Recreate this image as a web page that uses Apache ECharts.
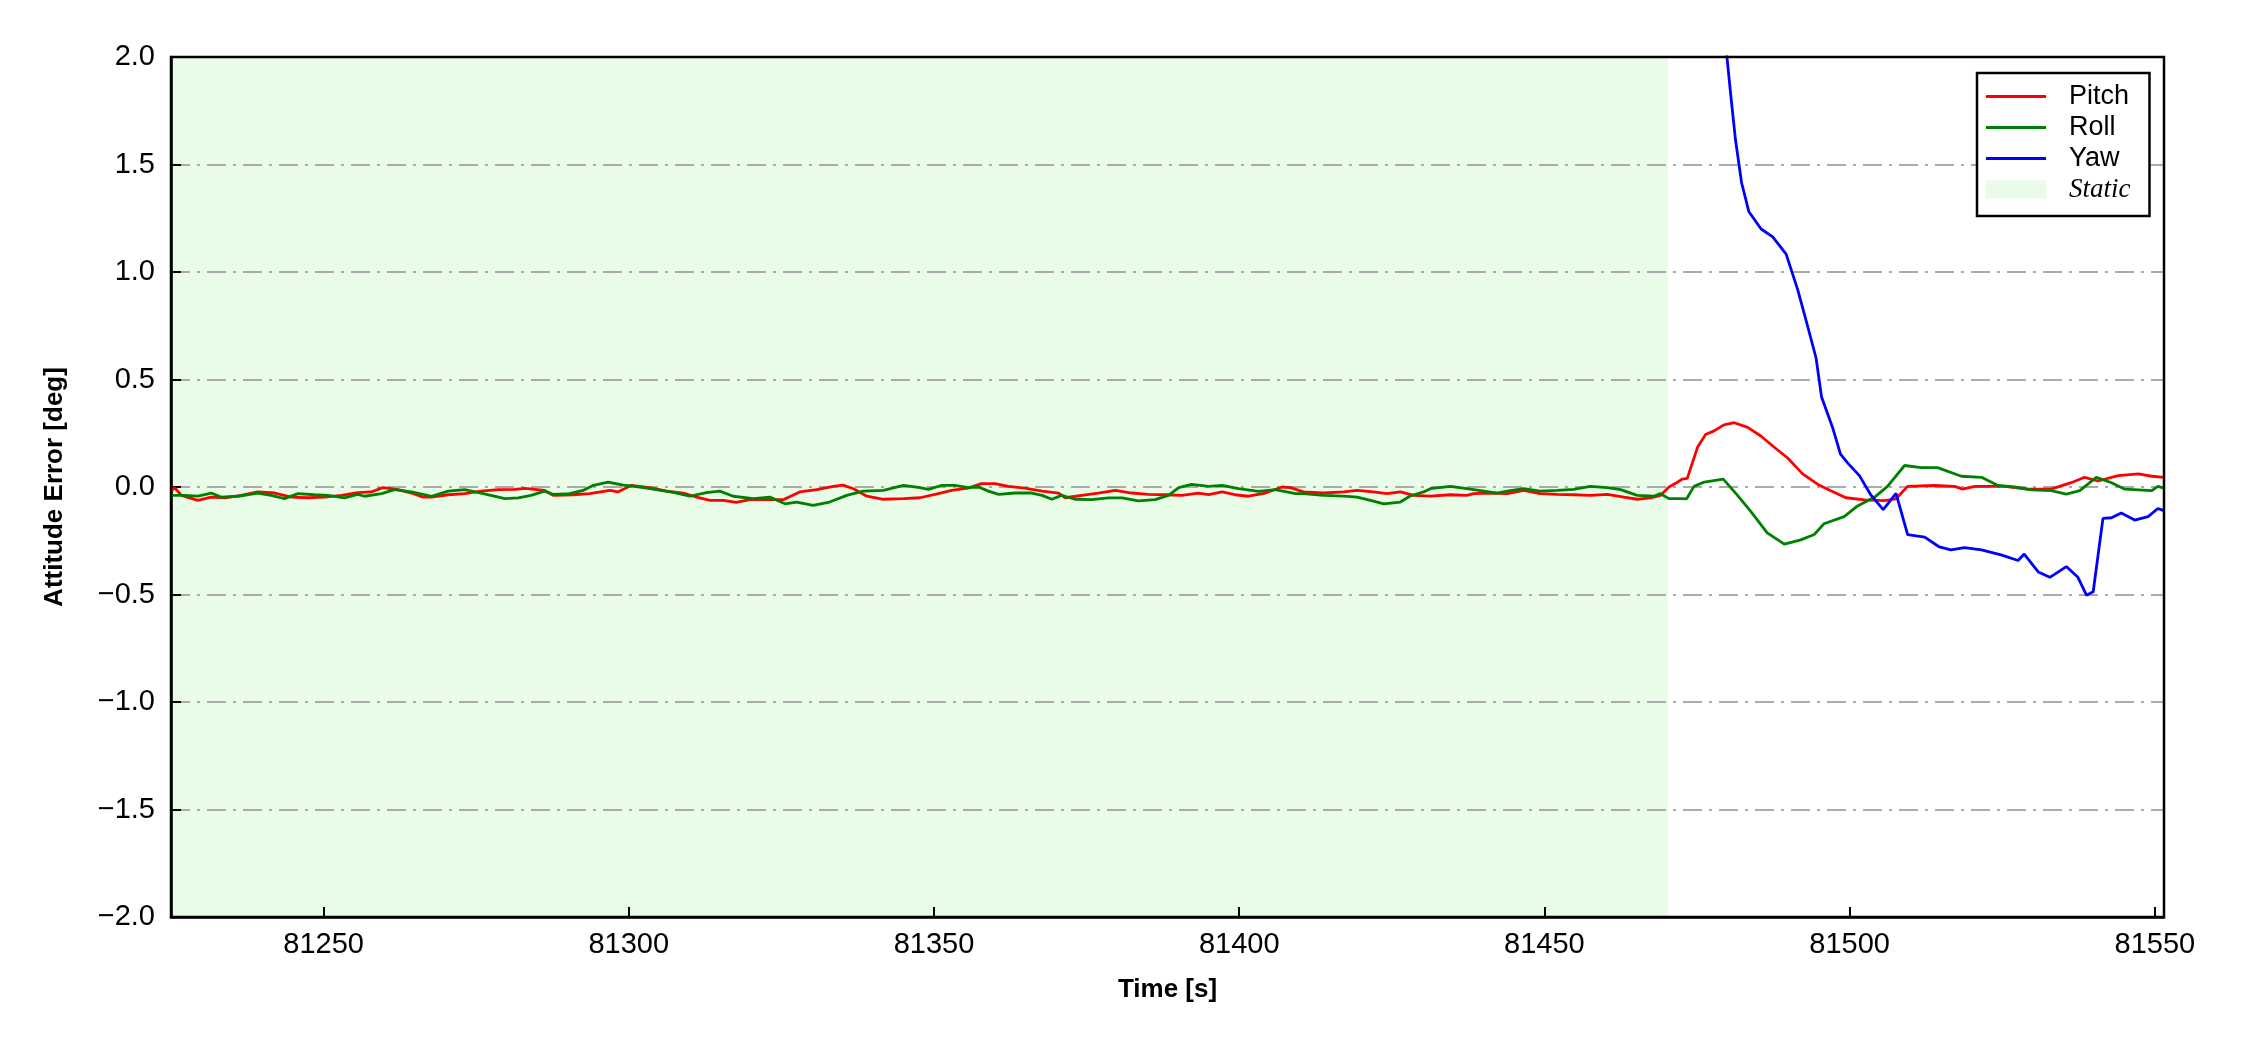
<!DOCTYPE html>
<html>
<head>
<meta charset="utf-8">
<script src="https://cdn.jsdelivr.net/npm/echarts@6/dist/echarts.min.js"></script>
<style>
html, body { margin: 0; padding: 0; background: #fff; }
#chart { width: 2250px; height: 1050px; }
</style>
</head>
<body>
<div id="chart"></div>
<script>
// [time s, error deg]
const pitchData = [
    [81225.0, -0.02], [81225.6, -0.003], [81226.7, -0.039], [81229.4, -0.062], [81231.6, -0.047],
    [81233.8, -0.051], [81236.5, -0.039], [81239.2, -0.023], [81242.0, -0.028], [81244.7, -0.047],
    [81247.4, -0.050], [81250.2, -0.047], [81252.9, -0.039], [81255.6, -0.026], [81257.8, -0.023],
    [81259.7, -0.003], [81262.2, -0.012], [81264.4, -0.028], [81266.3, -0.047], [81267.7, -0.047],
    [81270.4, -0.036], [81273.1, -0.031], [81275.8, -0.019], [81278.6, -0.012], [81281.3, -0.011],
    [81283.0, -0.006], [81286.2, -0.016], [81287.6, -0.039], [81290.9, -0.036], [81293.6, -0.031],
    [81296.9, -0.016], [81298.2, -0.023], [81300.4, 0.008], [81303.4, -0.003], [81306.2, -0.019],
    [81308.9, -0.028], [81311.1, -0.047], [81313.3, -0.062], [81315.5, -0.062], [81317.6, -0.071],
    [81319.8, -0.059], [81323.1, -0.059], [81325.3, -0.059], [81328.0, -0.023], [81330.8, -0.012],
    [81333.5, 0.003], [81335.1, 0.009], [81336.8, -0.008], [81339.0, -0.043], [81341.7, -0.057],
    [81345.0, -0.054], [81347.7, -0.050], [81350.7, -0.031], [81352.9, -0.016], [81355.6, -0.005],
    [81357.8, 0.016], [81360.0, 0.016], [81362.2, 0.003], [81364.9, -0.005], [81367.7, -0.019],
    [81370.4, -0.028], [81371.5, -0.050], [81374.2, -0.039], [81376.9, -0.028], [81379.7, -0.016],
    [81382.4, -0.028], [81385.1, -0.034], [81387.9, -0.036], [81390.6, -0.039], [81393.3, -0.028],
    [81395.0, -0.036], [81397.2, -0.023], [81399.3, -0.036], [81401.5, -0.043], [81404.3, -0.028],
    [81407.0, 0.000], [81408.4, -0.003], [81410.5, -0.023], [81413.8, -0.028], [81417.1, -0.023],
    [81419.3, -0.016], [81422.0, -0.023], [81424.2, -0.031], [81426.4, -0.023], [81428.6, -0.039],
    [81431.3, -0.042], [81434.6, -0.036], [81437.3, -0.039], [81438.4, -0.031], [81441.1, -0.028],
    [81443.9, -0.031], [81446.6, -0.016], [81449.3, -0.031], [81452.1, -0.034], [81454.8, -0.036],
    [81457.5, -0.039], [81460.3, -0.034], [81463.0, -0.047], [81465.2, -0.057], [81467.4, -0.051],
    [81469.0, -0.039], [81470.4, 0.000], [81471.5, 0.017], [81472.6, 0.037], [81473.4, 0.040],
    [81475.1, 0.186], [81476.4, 0.244], [81477.8, 0.261], [81479.4, 0.289], [81481.1, 0.299],
    [81483.3, 0.277], [81485.5, 0.236], [81487.6, 0.186], [81489.8, 0.136], [81492.3, 0.061],
    [81494.8, 0.012], [81496.9, -0.017], [81499.4, -0.050], [81502.4, -0.060], [81505.7, -0.063],
    [81507.6, -0.055], [81509.5, 0.003], [81513.9, 0.007], [81517.2, 0.003], [81518.5, -0.010],
    [81520.5, 0.003], [81525.4, 0.003], [81529.2, -0.010], [81533.0, -0.010], [81536.3, 0.020],
    [81538.5, 0.045], [81540.7, 0.028], [81544.0, 0.053], [81547.3, 0.061], [81549.5, 0.050],
    [81551.5, 0.045]
];

const rollData = [
    [81225.0, -0.039], [81227.2, -0.039], [81229.4, -0.042], [81231.6, -0.028], [81233.2, -0.047],
    [81236.0, -0.043], [81239.2, -0.028], [81241.4, -0.039], [81243.6, -0.054], [81245.8, -0.031],
    [81248.5, -0.036], [81250.7, -0.039], [81253.4, -0.051], [81255.6, -0.034], [81256.7, -0.043],
    [81259.5, -0.031], [81261.6, -0.012], [81264.4, -0.023], [81267.7, -0.043], [81270.4, -0.019],
    [81273.1, -0.012], [81275.8, -0.028], [81279.7, -0.054], [81281.9, -0.051], [81284.0, -0.039],
    [81286.2, -0.019], [81287.6, -0.034], [81290.3, -0.031], [81292.5, -0.016], [81294.2, 0.008],
    [81296.6, 0.023], [81299.1, 0.009], [81301.8, 0.000], [81304.5, -0.012], [81307.3, -0.025],
    [81310.0, -0.043], [81312.7, -0.026], [81314.9, -0.019], [81317.1, -0.043], [81320.4, -0.054],
    [81323.1, -0.047], [81325.6, -0.078], [81327.5, -0.070], [81330.2, -0.085], [81332.9, -0.070],
    [81335.7, -0.039], [81338.4, -0.019], [81341.7, -0.016], [81345.0, 0.008], [81347.7, -0.003],
    [81349.1, -0.011], [81351.3, 0.008], [81353.4, 0.008], [81355.6, -0.003], [81357.3, 0.000],
    [81358.9, -0.019], [81360.6, -0.034], [81363.3, -0.028], [81366.0, -0.028], [81367.7, -0.039],
    [81369.3, -0.057], [81370.9, -0.039], [81373.1, -0.057], [81375.8, -0.059], [81378.6, -0.051],
    [81380.8, -0.051], [81383.5, -0.065], [81386.2, -0.059], [81388.4, -0.039], [81390.1, -0.003],
    [81392.2, 0.012], [81395.0, 0.003], [81397.2, 0.008], [81399.9, -0.008], [81403.2, -0.020],
    [81405.9, -0.012], [81409.2, -0.031], [81410.5, -0.031], [81413.8, -0.039], [81417.1, -0.042],
    [81419.3, -0.047], [81421.5, -0.062], [81423.7, -0.078], [81426.4, -0.070], [81428.0, -0.042],
    [81430.2, -0.023], [81431.3, -0.008], [81434.6, 0.003], [81437.3, -0.008], [81440.1, -0.019],
    [81442.2, -0.028], [81443.9, -0.019], [81446.6, -0.008], [81449.3, -0.019], [81452.1, -0.016],
    [81454.8, -0.011], [81457.5, 0.003], [81460.3, -0.003], [81462.5, -0.012], [81465.2, -0.039],
    [81468.0, -0.042], [81469.0, -0.031], [81470.4, -0.054], [81472.3, -0.054], [81473.3, -0.055],
    [81474.5, 0.003], [81476.2, 0.023], [81479.3, 0.037], [81481.6, -0.038], [81483.8, -0.113],
    [81486.5, -0.213], [81489.3, -0.266], [81492.0, -0.246], [81494.2, -0.221], [81495.8, -0.171],
    [81499.1, -0.138], [81501.3, -0.088], [81504.1, -0.047], [81506.2, 0.003], [81509.0, 0.100],
    [81511.7, 0.090], [81514.4, 0.090], [81518.3, 0.050], [81521.6, 0.045], [81524.3, 0.007],
    [81527.0, 0.000], [81529.8, -0.013], [81533.0, -0.017], [81535.5, -0.033], [81537.7, -0.017],
    [81540.4, 0.045], [81542.9, 0.020], [81545.1, -0.010], [81549.5, -0.017], [81550.5, 0.003],
    [81551.5, -0.005]
];

// yaw comes down from far above the axis range after the static phase
const yawData = [
    [81471.0, 4.6], [81475.5, 3.1], [81479.9, 2.0], [81480.5, 1.83], [81481.3, 1.615],
    [81482.3, 1.415], [81483.5, 1.28], [81485.5, 1.20], [81487.4, 1.163], [81489.6, 1.083],
    [81491.5, 0.917], [81493.1, 0.75], [81494.5, 0.60], [81495.4, 0.419], [81497.2, 0.277],
    [81498.5, 0.153], [81499.7, 0.111], [81501.6, 0.053], [81503.5, -0.038], [81505.5, -0.105],
    [81507.6, -0.03], [81509.5, -0.221], [81512.3, -0.233], [81514.7, -0.279], [81516.6, -0.292],
    [81518.8, -0.282], [81521.6, -0.292], [81524.8, -0.316], [81527.6, -0.342], [81528.6, -0.312],
    [81530.9, -0.395], [81532.8, -0.42], [81535.5, -0.37], [81537.4, -0.42], [81538.8, -0.503],
    [81539.9, -0.487], [81541.5, -0.146], [81542.9, -0.143], [81544.5, -0.121], [81546.7, -0.154],
    [81548.9, -0.138], [81550.5, -0.10], [81551.5, -0.11]
];

const staticRange = [81225, 81470.2];
const xRange = [81225, 81551.5];
const yRange = [-2, 2];

const STATIC_COLOR = '#e8fce8';
const FONT = 'Liberation Sans, Arial, sans-serif';
// thin bar used as the legend icon of the line series
const LINE_ICON = 'path://M0,0 H60 V3 H0 Z';

var myChart = echarts.init(document.getElementById('chart'));

function lineSeries(name, data, color) {
    return {
        name: name,
        type: 'line',
        data: data,
        symbol: 'none',
        z: 3,
        color: color,
        lineStyle: { color: color, width: 2.8 },
        clip: true
    };
}

const option = {
    animation: false,
    backgroundColor: '#fff',
    grid: {
        left: 171, right: 86, top: 57, bottom: 133,
        show: true, borderColor: '#000', borderWidth: 2.5, z: 4
    },
    legend: {
        orient: 'vertical',
        left: 1977, top: 73,
        padding: [10, 19, 13, 9],
        borderColor: '#000', borderWidth: 2.5, borderRadius: 0,
        backgroundColor: '#fff',
        itemWidth: 60, itemHeight: 18, itemGap: 4,
        textStyle: { fontFamily: FONT, fontSize: 27, color: '#000', padding: [0, 0, 0, 18], lineHeight: 22 },
        data: [
            { name: 'Pitch', icon: LINE_ICON },
            { name: 'Roll', icon: LINE_ICON },
            { name: 'Yaw', icon: LINE_ICON },
            { name: 'Static', icon: 'rect',
              textStyle: { fontFamily: 'Liberation Serif, Times New Roman, serif', fontStyle: 'italic', fontSize: 27 } }
        ],
        z: 10
    },
    xAxis: {
        type: 'value',
        min: xRange[0], max: xRange[1],
        z: 2,
        name: 'Time [s]',
        nameLocation: 'middle',
        nameGap: 60,
        nameTextStyle: { fontFamily: FONT, fontWeight: 'bold', fontSize: 26, color: '#000' },
        axisLine: { onZero: false, lineStyle: { color: '#000', width: 2.5 } },
        axisTick: { inside: true, length: 10, lineStyle: { color: '#000', width: 2 } },
        axisLabel: {
            showMinLabel: false, showMaxLabel: false,
            margin: 13, fontFamily: FONT, fontSize: 29, color: '#000',
            formatter: v => String(v)
        },
        splitLine: { show: false }
    },
    yAxis: {
        type: 'value',
        min: yRange[0], max: yRange[1], interval: 0.5,
        z: 2,
        name: 'Attitude Error [deg]',
        nameLocation: 'middle',
        nameGap: 103,
        nameTextStyle: { fontFamily: FONT, fontWeight: 'bold', fontSize: 26, color: '#000' },
        axisLine: { onZero: false, lineStyle: { color: '#000', width: 2.5 } },
        axisTick: { inside: true, length: 10, lineStyle: { color: '#000', width: 2 } },
        axisLabel: {
            margin: 16, fontFamily: FONT, fontSize: 29, color: '#000',
            formatter: v => (v < 0 ? '\u2212' : '') + Math.abs(v).toFixed(1)
        },
        splitLine: { show: true, lineStyle: { color: '#aaaaaa', width: 2, type: [19, 7, 3, 7] } }
    },
    series: [
        lineSeries('Pitch', pitchData, '#ff0000'),
        lineSeries('Roll', rollData, '#008000'),
        lineSeries('Yaw', yawData, '#0000ff'),
        {
            name: 'Static',
            type: 'line',
            data: [],
            z: 0,
            color: STATIC_COLOR,
            itemStyle: { color: STATIC_COLOR },
            markArea: {
                silent: true,
                z: 0,
                itemStyle: { color: STATIC_COLOR },
                data: [[{ xAxis: staticRange[0] }, { xAxis: staticRange[1] }]]
            }
        }
    ]
};

myChart.setOption(option);
</script>
</body>
</html>
